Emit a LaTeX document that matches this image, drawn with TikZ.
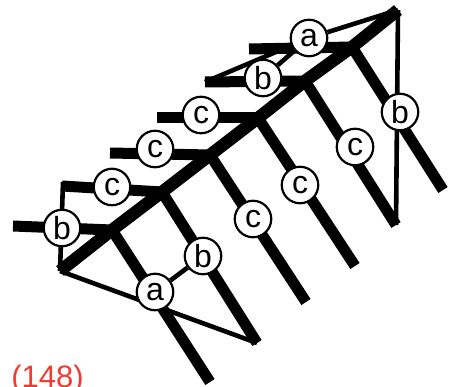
\documentclass[tikz,border=0pt]{standalone}
\usepackage{fontspec}
\setmainfont{Liberation Sans}
\usepackage{xcolor}
\usetikzlibrary{backgrounds}
\definecolor{lblred}{RGB}{240,60,50}

\begin{document}
\begin{tikzpicture}[
  x=1pt, y=-1pt,
  vtx/.style={draw, circle, fill=white, line width=2.2pt, minimum size=36.5pt, inner sep=0pt,
              font=\fontsize{32}{32}\selectfont},
  leg/.style={line width=11pt},
  spine/.style={line width=12.5pt},
  thinl/.style={line width=4.6pt},
  lbl/.style={font=\fontsize{31}{31}\selectfont, text=lblred, anchor=base},
]
\useasboundingbox (0,0) rectangle (462,387);

% ---- spine points ----
\coordinate (S0) at (60,271);
\coordinate (S1) at (112,230);
\coordinate (S2) at (162,192);
\coordinate (S3) at (210,155);
\coordinate (S4) at (258,118);
\coordinate (S5) at (305,81);
\coordinate (S6) at (352,47);
\coordinate (S7) at (398,10);

% ---- free ends ----
\coordinate (L1) at (13,226);
\coordinate (L2) at (62,186);
\coordinate (L3) at (110,153);
\coordinate (L4) at (157,118);
\coordinate (L5) at (205,82);
\coordinate (L6) at (249,49);
\coordinate (D1) at (210,382);
\coordinate (D2) at (257,343);
\coordinate (D3) at (306,302);
\coordinate (D4) at (355,266);
\coordinate (D5) at (396,225);
\coordinate (D6) at (443,190);

% ---- labelled vertices ----
\node[vtx] (Ba) at (62,228) {b};
\node[vtx] (Cc) at (112,187) {c};
\node[vtx] (Dc) at (155,149) {c};
\node[vtx] (Ec) at (201,115) {c};
\node[vtx] (Fb) at (263,78) {b};
\node[vtx] (Ga) at (309,38) {a};
\node[vtx] (Ha) at (155,292) {a};
\node[vtx] (Ib) at (203,256) {b};
\node[vtx] (Jc) at (253,219) {c};
\node[vtx] (Kc) at (300,185) {c};
\node[vtx] (Mc) at (355,147) {c};
\node[vtx] (Nb) at (400,112) {b};

\node[lbl] (T) at (47.5,387) {(148)};

\begin{pgfonlayer}{background}
% ---- thin lines ----
\draw[thinl] (63,182) coordinate (P) -- (S0);
\draw[thinl] (S0) -- (D2);
\draw[thinl] (Ha) -- (Ib);
\draw[thinl] (L5) -- (Ga);
\draw[thinl] (Ga) -- (S7);
\draw[thinl] (S7) -- (D5);
\draw[thinl] (Fb) -- (Ga);

% ---- spine ----
\draw[spine] (S0) -- (S1) -- (S2) -- (S3) -- (S4) -- (S5) -- (S6) -- (S7);

% ---- side legs ----
\draw[leg] (L1) -- (S1);
\draw[leg] (L2) -- (S2);
\draw[leg] (L3) -- (S3);
\draw[leg] (L4) -- (S4);
\draw[leg] (L5) -- (S5);
\draw[leg] (L6) -- (S6);

% ---- down legs ----
\draw[leg] (S1) -- (D1);
\draw[leg] (S2) -- (D2);
\draw[leg] (S3) -- (D3);
\draw[leg] (S4) -- (D4);
\draw[leg] (S5) -- (D5);
\draw[leg] (S6) -- (D6);
\end{pgfonlayer}

\end{tikzpicture}
\end{document}
